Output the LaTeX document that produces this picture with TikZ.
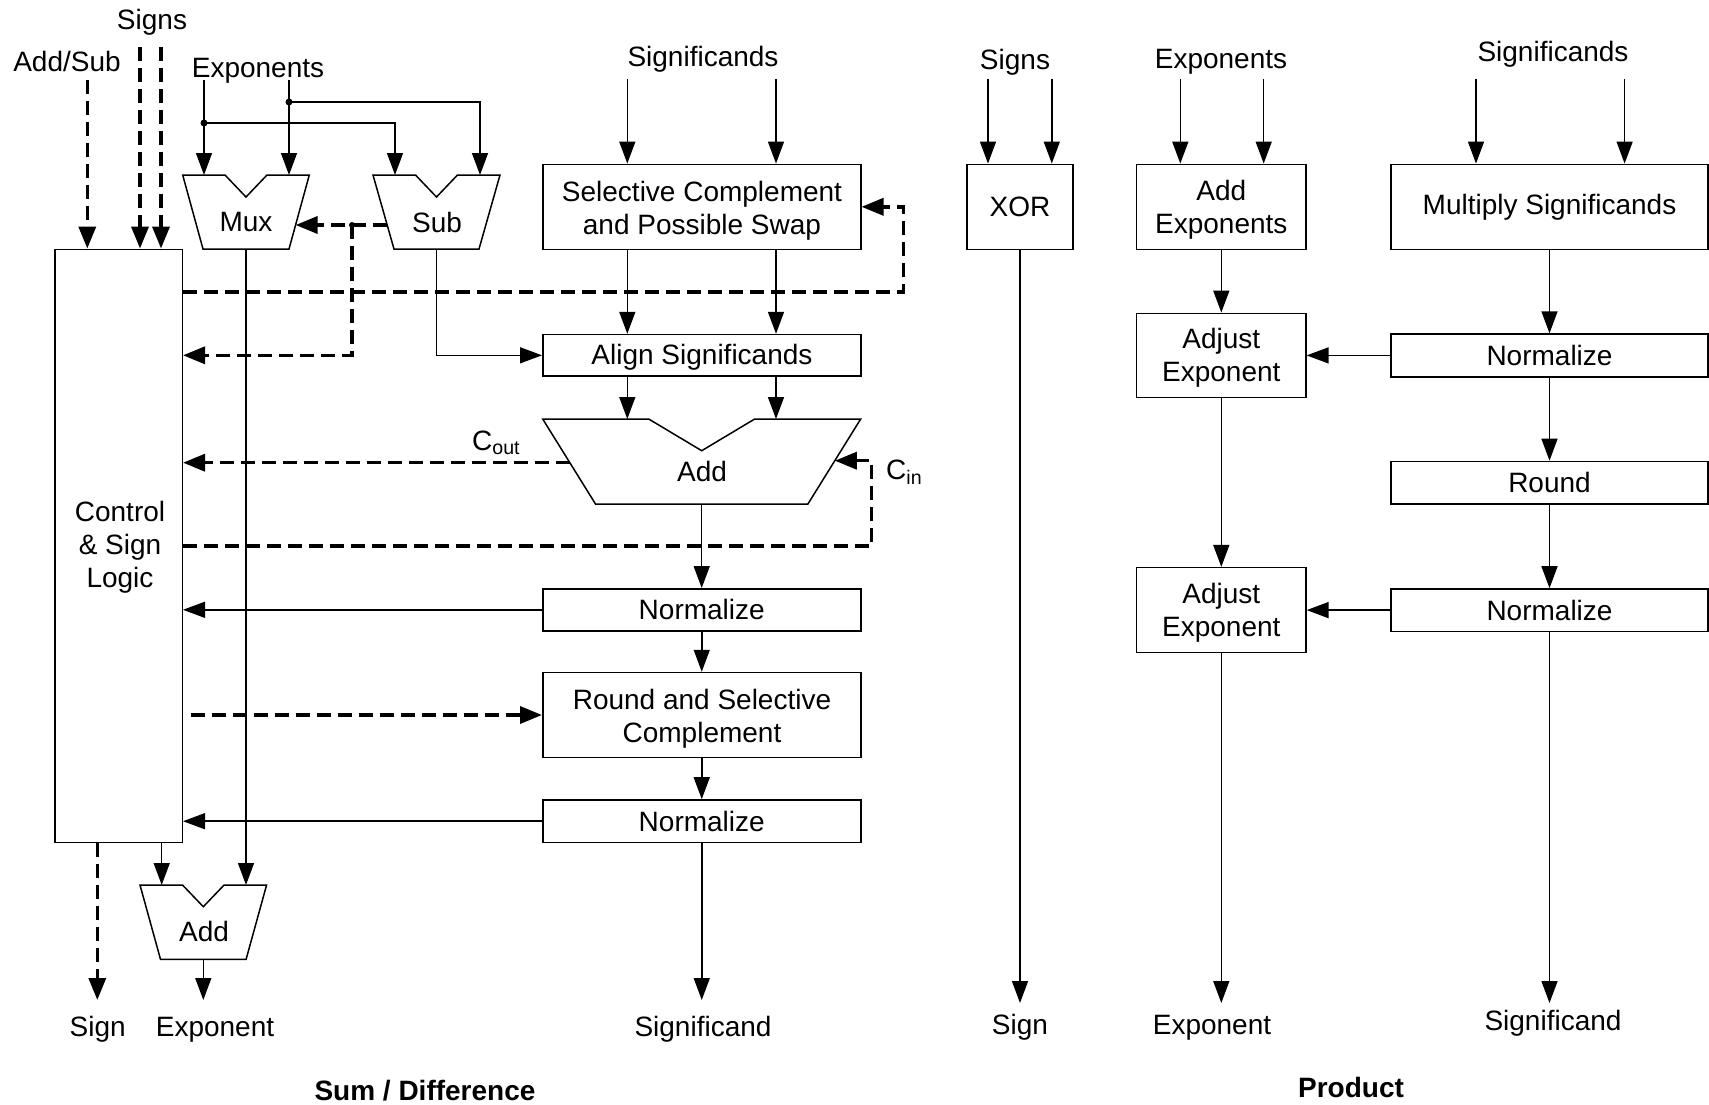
\documentclass[tikz,border=0pt]{standalone}
\usepackage{fontspec}
\setmainfont{Liberation Sans}
\usetikzlibrary{arrows.meta,calc}

% notched arithmetic unit: #1 name, #2 centre x, #3 top y, #4 bottom y,
% #5 half top width, #6 half bottom width, #7 half notch width, #8 notch depth
\newcommand{\aluunit}[8]{%
  \draw[unit] ({#2-#5},#3) -- ({#2-#7},#3) -- (#2,{#3+#8}) -- ({#2+#7},#3)
    -- ({#2+#5},#3) -- ({#2+#6},#4) -- ({#2-#6},#4) -- cycle;
  \coordinate (#1-out) at (#2,#4);
}

\begin{document}
\begin{tikzpicture}[x=1pt,y=-1pt,
  every node/.style={font=\fontsize{28pt}{33pt}\selectfont, inner sep=0pt},
  blk/.style={draw, line width=1.5pt, align=center},
  txt/.style={align=center},
  unit/.style={line width=1.5pt, line join=miter},
  wire/.style={line width=1.5pt, -{Triangle[length=22pt,width=16pt]}},
  ctl/.style={line width=3.5pt, dash pattern=on 14pt off 7pt, -{Triangle[length=22pt,width=17pt]}},
  lbl/.style={anchor=base},
  title/.style={anchor=base, font=\fontsize{28pt}{33pt}\selectfont\bfseries},
  dot/.style={circle, fill, minimum size=7pt, inner sep=0pt}
]
\fill[white] (0,0) rectangle (1709,1104);
\useasboundingbox (0,0) rectangle (1709,1104);

% ---------------- Sum / Difference ----------------
\node[lbl] (addsub) at (67,71) {Add/Sub};
\node[lbl] (signs) at (152,29) {Signs};
\node[lbl] (exps) at (258,77) {Exponents};
\node[lbl] (sigs) at (703,66) {Significands};

\coordinate (asIn) at (87.3,80);
\coordinate (sgIn1) at (140,47);
\coordinate (sgIn2) at (161,47);

\node[blk, minimum width=127.3pt, minimum height=593pt] (ctrl) at (118.6,545.8) {};
\node[txt] (ctrlT) at (120,547.5) {Control\\\& Sign\\Logic};

\draw[ctl] (asIn) -- (asIn |- ctrl.north);
\draw[ctl] (sgIn1) -- (sgIn1 |- ctrl.north);
\draw[ctl] (sgIn2) -- (sgIn2 |- ctrl.north);

% exponent multiplexer and subtractor
\aluunit{mux}{246}{175}{249}{63.3}{43}{21}{22}
\node (muxT) at (246,222) {Mux};
\aluunit{sub}{436.5}{175}{249}{63.5}{42.5}{21}{22}
\node (subT) at (437,222) {Sub};

\coordinate (expA) at (204,80);
\coordinate (expB) at (289,80);
\coordinate (muxInA) at (204,175);
\coordinate (muxInB) at (289,175);
\coordinate (subInA) at (395,175);
\coordinate (subInB) at (480,175);
\node[dot] (jA) at (204,123) {};
\node[dot] (jB) at (289,102) {};
\draw[wire] (expA) -- (muxInA);
\draw[wire] (expB) -- (muxInB);
\draw[wire] (jA.center) -| (subInA);
\draw[wire] (jB.center) -| (subInB);

% significand path
\node[blk, minimum width=318pt, minimum height=85pt] (sel) at (701.75,206.8) {};
\node[txt] (selT) at (702,210.3) {Selective Complement\\and Possible Swap};
\node[blk, minimum width=318pt, minimum height=41.5pt] (align) at (701.75,355.3) {};
\node (alignT) at (702,356.8) {Align Significands};
\aluunit{add}{701.7}{419}{504}{159}{106.2}{53}{31.7}
\node (addT) at (702,471.5) {Add};
\coordinate (addTop) at (701.7,419);

\coordinate (sigA) at (627.3,79.3);
\coordinate (sigB) at (776,79.3);
\draw[wire] (sigA) -- (sigA |- sel.north);
\draw[wire] (sigB) -- (sigB |- sel.north);
\draw[wire] (sigA |- sel.south) -- (sigA |- align.north);
\draw[wire] (sigB |- sel.south) -- (sigB |- align.north);
\draw[wire] (sigA |- align.south) -- (sigA |- addTop);
\draw[wire] (sigB |- align.south) -- (sigB |- addTop);

% exponent difference drives alignment
\draw[wire] (sub-out) |- (align.west);

% control signals around mux / sub
\coordinate (subL) at (387.2,225);
\coordinate (muxR) at (295.6,225);
\node[dot, minimum size=6pt] (jC) at (352,225) {};
\draw[ctl] (subL) -- (muxR);
\draw[ctl] (jC.center) |- (ctrl.east |- align.west);

\coordinate (selLoop) at (903.3,292);
\draw[ctl] (ctrl.east |- selLoop) -- (selLoop) |- (sel.east);

% carry out / carry in
\coordinate (addL) at (569.9,462.7);
\draw[ctl] (addL) -- (ctrl.east |- addL);
\node[anchor=base west] (cout) at (472,450) {C\textsubscript{out}};
\coordinate (addR) at (834.8,460.7);
\coordinate (cinLoop) at (871.7,546);
\draw[ctl] (ctrl.east |- cinLoop) -- (cinLoop) |- (addR);
\node[anchor=base west] (cin) at (886,479.3) {C\textsubscript{in}};

% normalise and round
\node[blk, minimum width=318pt, minimum height=42pt] (norm1) at (701.75,609.8) {Normalize};
\draw[wire] (add-out) -- (add-out |- norm1.north);
\draw[wire] (norm1.west) -- (ctrl.east |- norm1.west);
\node[blk, minimum width=318pt, minimum height=85pt] (round) at (701.75,715) {};
\node[txt] (roundT) at (702,719.2) {Round and Selective\\Complement};
\draw[wire] (norm1.south) -- (round.north);
\coordinate (rndCtl) at (190.7,715);
\draw[ctl] (rndCtl) -- (round.west);
\node[blk, minimum width=318pt, minimum height=42.5pt] (norm2) at (701.75,821.2) {Normalize};
\draw[wire] (round.south) -- (norm2.north);
\draw[wire] (norm2.west) -- (ctrl.east |- norm2.west);
\coordinate (sigOut) at (701.75,1000);
\draw[wire] (norm2.south) -- (sigOut);

% exponent adjust
\aluunit{eadd}{203.3}{885}{959.3}{63.3}{42.8}{20.8}{21.7}
\node (eaddT) at (204,931.7) {Add};
\coordinate (eaddInA) at (161.7,885);
\coordinate (eaddInB) at (246,885);
\draw[wire] (ctrl.south -| eaddInA) -- (eaddInA);
\draw[wire] (mux-out) -- (eaddInB);
\coordinate (expOut) at (203.3,1000);
\draw[wire] (eadd-out) -- (expOut);
\coordinate (signOut) at (97.3,1000);
\draw[ctl] (ctrl.south -| signOut) -- (signOut);

\node[lbl] (signLbl) at (97.7,1036) {Sign};
\node[lbl] (expLbl) at (215,1036) {Exponent};
\node[lbl] (sigLbl) at (703,1036) {Significand};
\node[title] (sumT) at (425,1100) {Sum / Difference};

% ---------------- Product ----------------
\node[lbl] (psigns) at (1015,69) {Signs};
\node[lbl] (pexps) at (1221,68.3) {Exponents};
\node[lbl] (psigs) at (1553,61) {Significands};

\node[blk, minimum width=106pt, minimum height=85pt] (xor) at (1020,206.8) {XOR};
\coordinate (psA) at (988,79.3);
\coordinate (psB) at (1051.8,79.3);
\draw[wire] (psA) -- (psA |- xor.north);
\draw[wire] (psB) -- (psB |- xor.north);

\node[blk, minimum width=169.2pt, minimum height=85pt] (addexp) at (1221.3,206.8) {};
\node[txt] (addexpT) at (1221.3,209.6) {Add\\Exponents};
\coordinate (peA) at (1180.3,79.3);
\coordinate (peB) at (1263.7,79.3);
\draw[wire] (peA) -- (peA |- addexp.north);
\draw[wire] (peB) -- (peB |- addexp.north);
\node[blk, minimum width=169.2pt, minimum height=84.4pt] (adj1) at (1221.3,355.5) {};
\node[txt] (adj1T) at (1221.3,358) {Adjust\\Exponent};
\node[blk, minimum width=169.2pt, minimum height=84.7pt] (adj2) at (1221.3,610) {};
\node[txt] (adj2T) at (1221.3,612.5) {Adjust\\Exponent};
\draw[wire] (addexp.south) -- (adj1.north);
\draw[wire] (adj1.south) -- (adj2.north);

\node[blk, minimum width=317pt, minimum height=85pt] (mult) at (1549.5,206.8) {Multiply Significands};
\coordinate (pmA) at (1476,79.3);
\coordinate (pmB) at (1624.6,79.3);
\draw[wire] (pmA) -- (pmA |- mult.north);
\draw[wire] (pmB) -- (pmB |- mult.north);
\node[blk, minimum width=317pt, minimum height=42.7pt] (pnorm1) at (1549.5,355.4) {Normalize};
\node[blk, minimum width=317pt, minimum height=42.3pt] (pround) at (1549.5,482.6) {Round};
\node[blk, minimum width=317pt, minimum height=42.3pt] (pnorm2) at (1549.5,610.1) {Normalize};
\draw[wire] (mult.south) -- (pnorm1.north);
\draw[wire] (pnorm1.south) -- (pround.north);
\draw[wire] (pround.south) -- (pnorm2.north);
\draw[wire] (pnorm1.west) -- (adj1.east |- pnorm1.west);
\draw[wire] (pnorm2.west) -- (adj2.east |- pnorm2.west);

\coordinate (pSignOut) at (1020,1003);
\coordinate (pExpOut) at (1221.3,1003);
\coordinate (pSigOut) at (1549.5,1003);
\draw[wire] (xor.south) -- (pSignOut);
\draw[wire] (adj2.south) -- (pExpOut);
\draw[wire] (pnorm2.south) -- (pSigOut);

\node[lbl] (psignLbl) at (1020,1034) {Sign};
\node[lbl] (pexpLbl) at (1212,1034) {Exponent};
\node[lbl] (psigLbl) at (1553,1030) {Significand};
\node[title] (prodT) at (1351,1097) {Product};
\end{tikzpicture}
\end{document}
